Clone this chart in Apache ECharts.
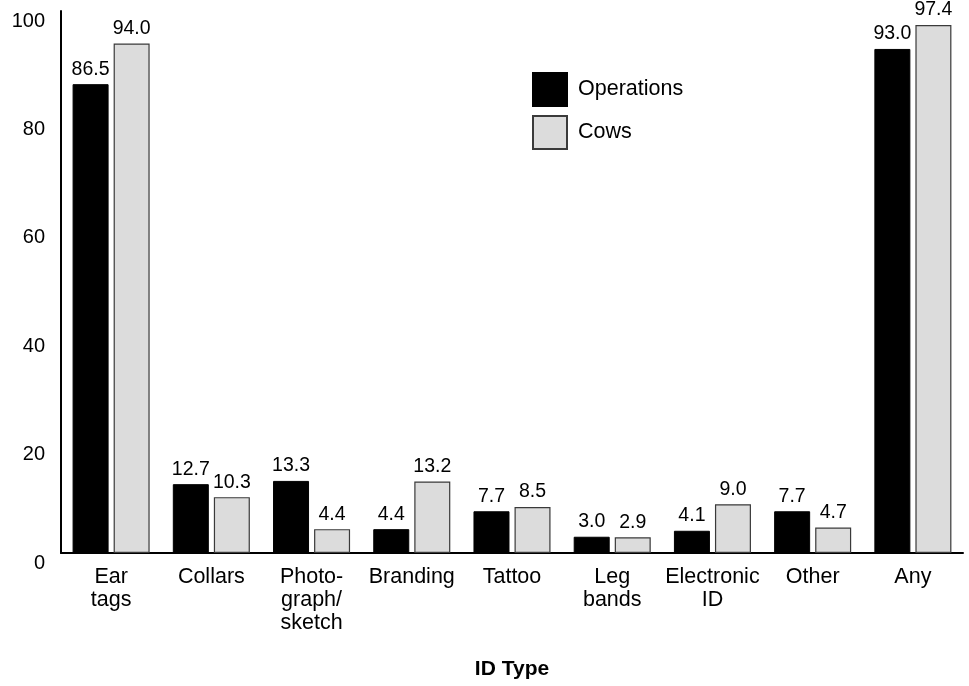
<!DOCTYPE html>
<html>
<head>
<meta charset="utf-8">
<script src="https://cdn.jsdelivr.net/npm/echarts@6/dist/echarts.min.js"></script>
<style>html,body{margin:0;padding:0;background:#fff;}#chart{width:969px;height:686px;}</style>
</head>
<body>
<div id="chart"></div>
<script>
const categories = ["Ear\ntags", "Collars", "Photo-\ngraph/\nsketch", "Branding", "Tattoo", "Leg\nbands", "Electronic\nID", "Other", "Any"];
const operations = [86.5, 12.7, 13.3, 4.4, 7.7, 3.0, 4.1, 7.7, 93.0];
const cows = [94.0, 10.3, 4.4, 13.2, 8.5, 2.9, 9.0, 4.7, 97.4];
const yTicks = [0, 20, 40, 60, 80, 100];

const FONT = "Liberation Sans, Arial, sans-serif";
const chart = echarts.init(document.getElementById('chart'), null, {renderer: 'canvas'});
const labelCfg = {
  show: true, position: 'top', distance: 5, color: '#000',
  fontFamily: FONT, fontSize: 19.5,
  formatter: p => Number(p.value).toFixed(1)
};
chart.setOption({
  animation: false,
  backgroundColor: '#fff',
  textStyle: {fontFamily: FONT},
  grid: {left: 61, right: 6, top: 11, bottom: 133, containLabel: false, outerBoundsMode: 'none'},
  legend: {
    orient: 'vertical', left: 532, top: 72, padding: 0,
    icon: 'rect',
    itemWidth: 34, itemHeight: 33, itemGap: 8,
    textStyle: {fontFamily: FONT, fontSize: 21.5, color: '#000', padding: [0, 0, 0, 6]},
    data: ['Operations', 'Cows']
  },
  xAxis: {
    type: 'category', data: categories,
    name: 'ID Type', nameLocation: 'middle', nameGap: 106,
    nameTextStyle: {fontFamily: FONT, fontSize: 21, fontWeight: 'bold', color: '#000'},
    axisLine: {show: true, lineStyle: {color: '#000', width: 2}},
    axisTick: {show: false},
    axisLabel: {fontFamily: FONT, fontSize: 21.5, color: '#000', margin: 13, lineHeight: 23, interval: 0, verticalAlign: 'top'}
  },
  yAxis: {
    type: 'value', min: yTicks[0], max: yTicks[yTicks.length - 1], interval: 20,
    axisLine: {show: true, lineStyle: {color: '#000', width: 2}},
    axisTick: {show: false},
    splitLine: {show: false},
    axisLabel: {fontFamily: FONT, fontSize: 20, color: '#000', margin: 16, verticalAlign: 'top', lineHeight: 20}
  },
  series: [
    {
      name: 'Operations', type: 'bar', data: operations,
      barWidth: 36, barGap: '14%',
      itemStyle: {color: '#000', borderColor: '#000', borderWidth: 1},
      label: labelCfg
    },
    {
      name: 'Cows', type: 'bar', data: cows,
      barWidth: 36,
      itemStyle: {color: '#dcdcdc', borderColor: '#3a3a3a', borderWidth: 1.2},
      label: labelCfg
    }
  ]
});
</script>
</body>
</html>
